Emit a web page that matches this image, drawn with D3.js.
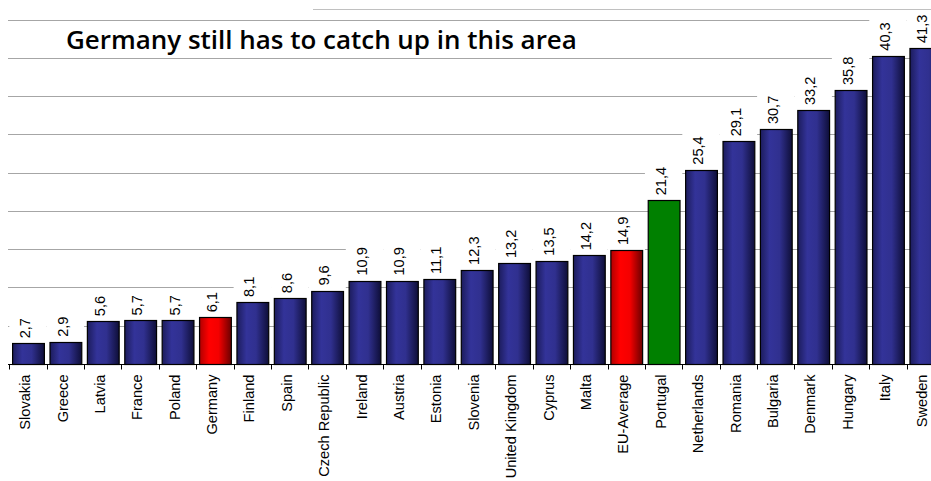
<!DOCTYPE html>
<html>
<head>
<meta charset="utf-8">
<script src="https://cdn.jsdelivr.net/npm/d3@7"></script>
<style>
  html, body { margin: 0; padding: 0; background: #fff; }
  svg { display: block; }
</style>
</head>
<body>
<svg id="chart" width="931" height="481"></svg>
<script>
// Share values per country, sorted ascending
const categories = ["Slovakia", "Greece", "Latvia", "France", "Poland", "Germany", "Finland", "Spain",
  "Czech Republic", "Ireland", "Austria", "Estonia", "Slovenia", "United Kingdom", "Cyprus", "Malta",
  "EU-Average", "Portugal", "Netherlands", "Romania", "Bulgaria", "Denmark", "Hungary", "Italy", "Sweden"];
const values = [2.7, 2.9, 5.6, 5.7, 5.7, 6.1, 8.1, 8.6, 9.6, 10.9, 10.9, 11.1, 12.3, 13.2, 13.5, 14.2,
  14.9, 21.4, 25.4, 29.1, 30.7, 33.2, 35.8, 40.3, 41.3];
const highlightRed = ["Germany", "EU-Average"];
const highlightGreen = ["Portugal"];
const gridTicks = [5, 10, 15, 20, 25, 30, 35, 40, 45];
const titleText = "Germany still has to catch up in this area";

const data = categories.map((c, i) => ({ name: c, value: values[i] }));

const svg = d3.select("#chart");
const W = 931;

const x = d3.scaleBand()
  .domain(categories)
  .range([9.3, 9.3 + 37.39 * categories.length])
  .paddingInner(0.15)
  .paddingOuter(0.075);

const step = x.step();
const y = d3.scaleLinear().domain([0, 46.4]).range([364, 9]);

const locale = d3.formatLocale({ decimal: ",", thousands: ".", grouping: [3], currency: ["", "€"] });
const fmt = locale.format(".1f");

// Gradients for bar fills
const defs = svg.append("defs");
function grad(id, stops) {
  const g = defs.append("linearGradient").attr("id", id)
    .attr("x1", "0%").attr("x2", "100%").attr("y1", "0%").attr("y2", "0%");
  stops.forEach(([o, c]) => g.append("stop").attr("offset", o).attr("stop-color", c));
}
grad("gBlue", [["0%", "#1c1c5c"], ["30%", "#333399"], ["60%", "#30308f"], ["100%", "#0e0e38"]]);
grad("gRed", [["0%", "#b00000"], ["30%", "#ff0000"], ["60%", "#f40000"], ["100%", "#6a0000"]]);

function fillFor(d) {
  if (highlightRed.includes(d.name)) return "url(#gRed)";
  if (highlightGreen.includes(d.name)) return "#008000";
  return "url(#gBlue)";
}

// Gridlines
svg.append("g").selectAll("line").data(gridTicks).join("line")
  .attr("x1", 8).attr("x2", W)
  .attr("y1", d => Math.round(y(d)) + 0.5).attr("y2", d => Math.round(y(d)) + 0.5)
  .attr("stroke", "#a6a6a6").attr("stroke-width", 1);

// Upper border of the plot area
svg.append("line")
  .attr("x1", 313).attr("x2", W)
  .attr("y1", Math.round(y(46.4)) + 0.5).attr("y2", Math.round(y(46.4)) + 0.5)
  .attr("stroke", "#c0c0c0").attr("stroke-width", 1);

const labelFont = "'Liberation Sans', Arial, sans-serif";
const labelSize = 14.6;
const gap = 5;

// Value labels: measured first so their white backing boxes can mask the gridlines
const labelG = svg.append("g");
const labels = labelG.selectAll("text").data(data).join("text")
  .attr("transform", d => `translate(${x(d.name) + x.bandwidth() / 2 - 3},${y(d.value) - gap}) rotate(-90)`)
  .attr("dy", "0.35em")
  .attr("font-family", labelFont)
  .attr("font-size", labelSize)
  .attr("fill", "#000")
  .text(d => fmt(d.value));

const boxes = svg.insert("g", () => labelG.node());
labels.each(function(d) {
  const len = this.getComputedTextLength();
  const band0 = x(d.name) - x.paddingInner() * step / 2;
  boxes.append("rect")
    .attr("x", band0)
    .attr("width", step)
    .attr("y", y(d.value) - gap - len - 3)
    .attr("height", len + gap + 3)
    .attr("fill", "#fff");
});

// Bars
svg.insert("g", () => labelG.node()).selectAll("rect").data(data).join("rect")
  .attr("x", d => x(d.name) + 0.5)
  .attr("y", d => Math.round(y(d.value)) + 0.5)
  .attr("width", x.bandwidth())
  .attr("height", d => Math.round(y(0)) - Math.round(y(d.value)))
  .attr("fill", fillFor)
  .attr("stroke", "#000")
  .attr("stroke-width", 1.2);

// Category axis
const axis = d3.axisBottom(x).tickSize(0).tickFormat(d => d);
const axG = svg.append("g")
  .attr("transform", `translate(0,${Math.round(y(0)) + 0.5})`)
  .call(axis);
axG.select(".domain").remove();
axG.append("line").attr("x1", 8).attr("x2", W).attr("stroke", "#000");
axG.selectAll(".tick line").remove();
axG.selectAll(".bnd").data(categories).join("line")
  .attr("class", "bnd")
  .attr("x1", d => Math.round(x(d) - x.paddingInner() * step / 2) + 0.5)
  .attr("x2", d => Math.round(x(d) - x.paddingInner() * step / 2) + 0.5)
  .attr("y1", 0).attr("y2", 5)
  .attr("stroke", "#000");
axG.selectAll(".tick text")
  .attr("font-family", labelFont)
  .attr("font-size", labelSize)
  .attr("fill", "#000")
  .attr("text-anchor", "end")
  .attr("transform", "rotate(-90)")
  .attr("x", -10)
  .attr("y", -3)
  .attr("dy", "0.35em");

// Title
const title = svg.append("text")
  .attr("x", 66).attr("y", 49)
  .attr("font-family", "'Open Sans', sans-serif")
  .attr("font-weight", 600)
  .attr("font-size", 24)
  .attr("fill", "#000")
  .text(titleText);
const tl = title.node().getComputedTextLength();
title.attr("font-size", 24 * 511 / tl);
</script>
</body>
</html>
